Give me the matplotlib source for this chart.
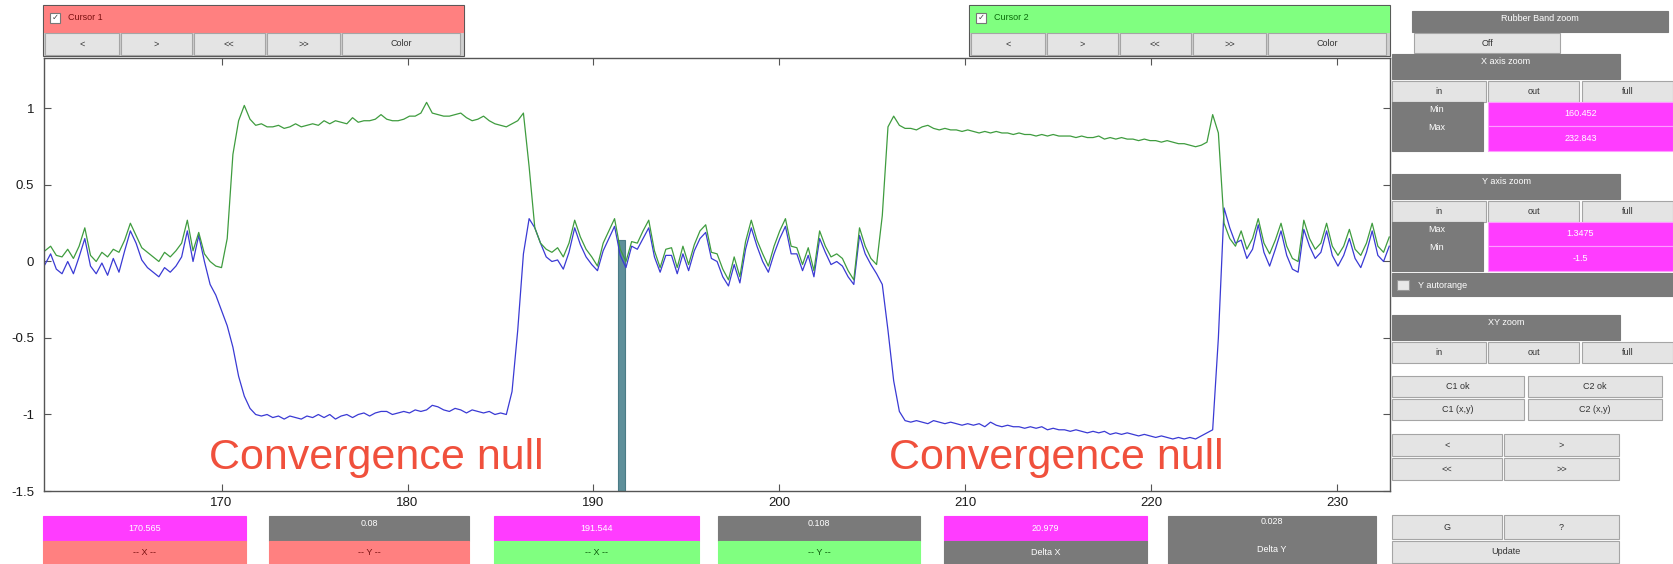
import numpy as np
import matplotlib
matplotlib.use("Agg")
import matplotlib.pyplot as plt
from matplotlib.patches import Rectangle
from matplotlib.ticker import FormatStrFormatter

plt.rcParams["font.family"] = ["Liberation Sans", "DejaVu Sans"]
plt.rcParams["axes.unicode_minus"] = False

# sample times of the two traces
t = np.linspace(160.5, 232.8, 237)

# green trace, rows of 10 samples
green = [
    0.07, 0.10, 0.04, 0.03, 0.08, 0.02, 0.10, 0.22, 0.04, 0.00,
    0.06, 0.03, 0.08, 0.06, 0.14, 0.25, 0.17, 0.09, 0.06, 0.03,
    0.00, 0.06, 0.03, 0.07, 0.12, 0.27, 0.07, 0.19, 0.05, 0.00,
    -0.03, -0.04, 0.15, 0.70, 0.92, 1.02, 0.93, 0.89, 0.90, 0.88,
    0.88, 0.89, 0.87, 0.88, 0.90, 0.88, 0.89, 0.90, 0.89, 0.92,
    0.90, 0.92, 0.91, 0.90, 0.94, 0.91, 0.92, 0.92, 0.93, 0.96,
    0.93, 0.92, 0.92, 0.93, 0.95, 0.95, 0.97, 1.04, 0.97, 0.96,
    0.95, 0.95, 0.96, 0.97, 0.94, 0.92, 0.93, 0.95, 0.92, 0.90,
    0.89, 0.88, 0.90, 0.92, 0.97, 0.62, 0.22, 0.12, 0.08, 0.06,
    0.09, 0.03, 0.12, 0.27, 0.16, 0.08, 0.03, -0.03, 0.12, 0.20,
    0.28, 0.08, 0.00, 0.13, 0.12, 0.20, 0.27, 0.07, -0.04, 0.08,
    0.09, -0.04, 0.10, -0.02, 0.11, 0.20, 0.24, 0.06, 0.05, -0.05,
    -0.12, 0.03, -0.10, 0.13, 0.27, 0.14, 0.05, -0.03, 0.10, 0.20,
    0.28, 0.10, 0.09, -0.02, 0.09, -0.06, 0.20, 0.10, 0.03, 0.05,
    0.02, -0.06, -0.12, 0.22, 0.10, 0.02, -0.02, 0.30, 0.88, 0.95,
    0.89, 0.87, 0.87, 0.86, 0.88, 0.89, 0.87, 0.86, 0.87, 0.86,
    0.86, 0.85, 0.86, 0.85, 0.84, 0.85, 0.84, 0.85, 0.84, 0.84,
    0.83, 0.84, 0.83, 0.83, 0.82, 0.83, 0.82, 0.83, 0.82, 0.82,
    0.82, 0.81, 0.82, 0.81, 0.81, 0.82, 0.80, 0.81, 0.80, 0.81,
    0.80, 0.80, 0.79, 0.80, 0.79, 0.79, 0.78, 0.79, 0.78, 0.77,
    0.77, 0.76, 0.75, 0.76, 0.78, 0.96, 0.84, 0.25, 0.15, 0.10,
    0.20, 0.08, 0.15, 0.28, 0.12, 0.05, 0.14, 0.25, 0.10, 0.02,
    0.00, 0.27, 0.15, 0.08, 0.12, 0.25, 0.10, 0.04, 0.10, 0.21,
    0.08, 0.04, 0.12, 0.25, 0.10, 0.06, 0.16,
]

# blue trace, same samples
blue = [
    -0.02, 0.05, -0.05, -0.08, 0.00, -0.08, 0.03, 0.15, -0.03, -0.08,
    -0.01, -0.09, 0.02, -0.07, 0.07, 0.20, 0.12, 0.01, -0.04, -0.07,
    -0.10, -0.04, -0.07, -0.03, 0.03, 0.20, 0.00, 0.17, 0.00, -0.15,
    -0.22, -0.32, -0.42, -0.56, -0.75, -0.88, -0.96, -1.00, -1.01, -1.00,
    -1.02, -1.01, -1.03, -1.01, -1.02, -1.03, -1.01, -1.02, -1.00, -1.02,
    -1.00, -1.03, -1.01, -1.00, -1.02, -1.00, -0.99, -1.01, -0.99, -0.98,
    -0.98, -1.00, -0.99, -0.98, -0.99, -0.97, -0.98, -0.97, -0.94, -0.95,
    -0.97, -0.98, -0.96, -0.97, -0.99, -0.97, -0.98, -0.99, -0.98, -1.00,
    -0.99, -1.00, -0.85, -0.45, 0.05, 0.28, 0.22, 0.12, 0.03, 0.00,
    0.01, -0.05, 0.06, 0.22, 0.11, 0.03, -0.02, -0.06, 0.07, 0.15,
    0.23, 0.04, -0.04, 0.10, 0.08, 0.15, 0.22, 0.03, -0.07, 0.04,
    0.04, -0.08, 0.05, -0.06, 0.07, 0.15, 0.19, 0.02, 0.00, -0.10,
    -0.16, -0.02, -0.14, 0.08, 0.22, 0.10, 0.00, -0.07, 0.05, 0.15,
    0.23, 0.05, 0.05, -0.06, 0.04, -0.10, 0.15, 0.06, -0.02, 0.00,
    -0.03, -0.10, -0.15, 0.17, 0.05, -0.02, -0.08, -0.15, -0.45, -0.78,
    -0.98, -1.04, -1.05, -1.04, -1.05, -1.06, -1.04, -1.05, -1.06, -1.05,
    -1.06, -1.07, -1.06, -1.07, -1.06, -1.08, -1.05, -1.07, -1.08, -1.07,
    -1.08, -1.08, -1.09, -1.08, -1.09, -1.08, -1.10, -1.09, -1.10, -1.10,
    -1.11, -1.10, -1.11, -1.12, -1.11, -1.12, -1.11, -1.13, -1.12, -1.13,
    -1.12, -1.13, -1.14, -1.13, -1.14, -1.15, -1.14, -1.15, -1.16, -1.15,
    -1.16, -1.15, -1.16, -1.14, -1.12, -1.10, -0.50, 0.35, 0.22, 0.12,
    0.14, 0.02, 0.08, 0.24, 0.06, -0.03, 0.08, 0.20, 0.04, -0.05,
    -0.07, 0.21, 0.10, 0.02, 0.06, 0.20, 0.04, -0.03, 0.04, 0.15,
    0.02, -0.04, 0.06, 0.20, 0.04, 0.00, 0.10,
]

x_ticks = [170, 180, 190, 200, 210, 220, 230]
y_ticks = [-1.5, -1, -0.5, 0, 0.5, 1]
x_range = (160.45, 232.84)
y_range = (-1.5, 1.33)

cursor_x = 191.5
cursor_top = 0.14
note_x = [178.3, 214.9]
note_y = -1.355
note_text = "Convergence null"

# cursor readouts: C1 x, C1 y, C2 x, C2 y, delta x, delta y
readouts = ["170.565", "0.08", "191.544", "0.108", "20.979", "0.028"]
zoom_x = ["160.452", "232.843"]
zoom_y = ["1.3475", "-1.5"]

W, H = 1673, 564
fig = plt.figure(figsize=(W / 100, H / 100), dpi=100)

GRAY = "#7a7a7a"
MAGENTA = "#ff3cff"
SALMON = "#ff8080"
LIME = "#80ff80"


def box(x0, y0, x1, y1, face, label="", color="white", edge=None, pos=0.5, size=6.5):
    fig.add_artist(Rectangle((x0 / W, 1 - y1 / H), (x1 - x0) / W, (y1 - y0) / H,
                             transform=fig.transFigure, facecolor=face,
                             edgecolor=edge if edge else face, lw=0.8))
    if label:
        fig.text((x0 + x1) / 2 / W, 1 - (y0 + (y1 - y0) * pos) / H, label,
                 ha="center", va="center", fontsize=size, color=color)


def button(x0, y0, x1, y1, label):
    box(x0, y0, x1, y1, "#e4e4e4", label, "#333333", edge="#a5a5a5")


def label(x, y, s, color="white", ha="left", size=6.5):
    fig.text(x / W, 1 - y / H, s, ha=ha, va="center", fontsize=size, color=color)


# main axes
ax = fig.add_axes([44 / W, 1 - 491 / H, (1390 - 44) / W, (491 - 58) / H])
ax.plot(t, blue, color="#3a3ad4", lw=0.9)
ax.plot(t, green, color="#3f9c3f", lw=0.9)
ax.bar(cursor_x, cursor_top - y_range[0], bottom=y_range[0], width=0.38,
       color="#5e8f9a", edgecolor="#4b7b86", lw=0.8)
for nx in note_x:
    ax.text(nx, note_y, note_text, ha="center", va="baseline",
            fontsize=31, color="#f0503c")

ax.set_xlim(*x_range)
ax.set_ylim(*y_range)
ax.set_xticks(x_ticks)
ax.set_yticks(y_ticks)
ax.yaxis.set_major_formatter(FormatStrFormatter("%g"))
ax.tick_params(direction="in", top=True, right=True, length=5, width=0.8,
               color="#555555", labelsize=9.5, labelcolor="#1a1a1a")
ax.tick_params(axis="x", pad=4)
ax.tick_params(axis="y", pad=7)
for s in ax.spines.values():
    s.set_color("#555555")
    s.set_linewidth(1.0)

# cursor panels
for (x0, x1, face, name, tcol) in [(43, 464, SALMON, "Cursor 1", "#7a1010"),
                                   (969, 1390, LIME, "Cursor 2", "#0a6a0a")]:
    box(x0, 5, x1, 56, "#cfcfcf", edge="#555555")
    box(x0 + 1, 6, x1 - 1, 32, face)
    box(x0 + 7, 13, x0 + 17, 23, "white", "\u2713", "#444444", edge="#777777", size=6)
    label(x0 + 25, 18, name, tcol)
    w = x1 - x0
    edges = [0.005, 0.186, 0.358, 0.532, 0.71, 0.995]
    for k, s in enumerate(["<", ">", "<<", ">>", "Color"]):
        button(x0 + w * edges[k], 33, x0 + w * edges[k + 1] - 2, 55, s)

# right control panel
box(1412, 11, 1668, 32, GRAY, "Rubber Band zoom", pos=0.35)
button(1414, 33, 1560, 53, "Off")


def zoom_block(top, title, names, values):
    box(1392, top, 1620, top + 25, GRAY, title, pos=0.3)
    button(1392, top + 27, 1486, top + 48, "in")
    button(1488, top + 27, 1579, top + 48, "out")
    button(1582, top + 27, 1673, top + 48, "full")
    if names:
        box(1392, top + 48, 1483, top + 97, GRAY)
        label(1437, top + 55, names[0], ha="center")
        label(1437, top + 73, names[1], ha="center")
        box(1488, top + 48, 1673, top + 72, MAGENTA, values[0], edge="#ff9cff")
        box(1488, top + 72, 1673, top + 97, MAGENTA, values[1], edge="#ff9cff")


zoom_block(54, "X axis zoom", ["Min", "Max"], zoom_x)
zoom_block(174, "Y axis zoom", ["Max", "Min"], zoom_y)
box(1392, 273, 1673, 296, GRAY)
box(1397, 280, 1409, 290, "#e8e8e8", edge="#999999")
label(1418, 285, "Y autorange")
zoom_block(315, "XY zoom", None, None)

button(1392, 376, 1524, 397, "C1 ok")
button(1528, 376, 1662, 397, "C2 ok")
button(1392, 399, 1524, 420, "C1 (x,y)")
button(1528, 399, 1662, 420, "C2 (x,y)")
button(1392, 434, 1502, 456, "<")
button(1504, 434, 1619, 456, ">")
button(1392, 458, 1502, 480, "<<")
button(1504, 458, 1619, 480, ">>")
button(1392, 515, 1502, 539, "G")
button(1504, 515, 1619, 539, "?")
button(1392, 541, 1619, 563, "Update")

# readout boxes under the plot
box(43, 516, 246, 541, MAGENTA, readouts[0])
box(43, 541, 246, 564, SALMON, "-- X --", "#7a1010")
box(269, 516, 469, 541, GRAY, readouts[1], pos=0.3)
box(269, 541, 469, 564, SALMON, "-- Y --", "#7a1010")
box(494, 516, 699, 541, MAGENTA, readouts[2])
box(494, 541, 699, 564, LIME, "-- X --", "#0a5a0a")
box(718, 516, 920, 541, GRAY, readouts[3], pos=0.3)
box(718, 541, 920, 564, LIME, "-- Y --", "#0a5a0a")
box(944, 516, 1147, 541, MAGENTA, readouts[4])
box(944, 541, 1147, 564, GRAY, "Delta X")
box(1168, 516, 1376, 564, GRAY)
label(1272, 522, readouts[5], ha="center")
label(1272, 550, "Delta Y", ha="center")

fig.savefig("out.png", dpi=100)
